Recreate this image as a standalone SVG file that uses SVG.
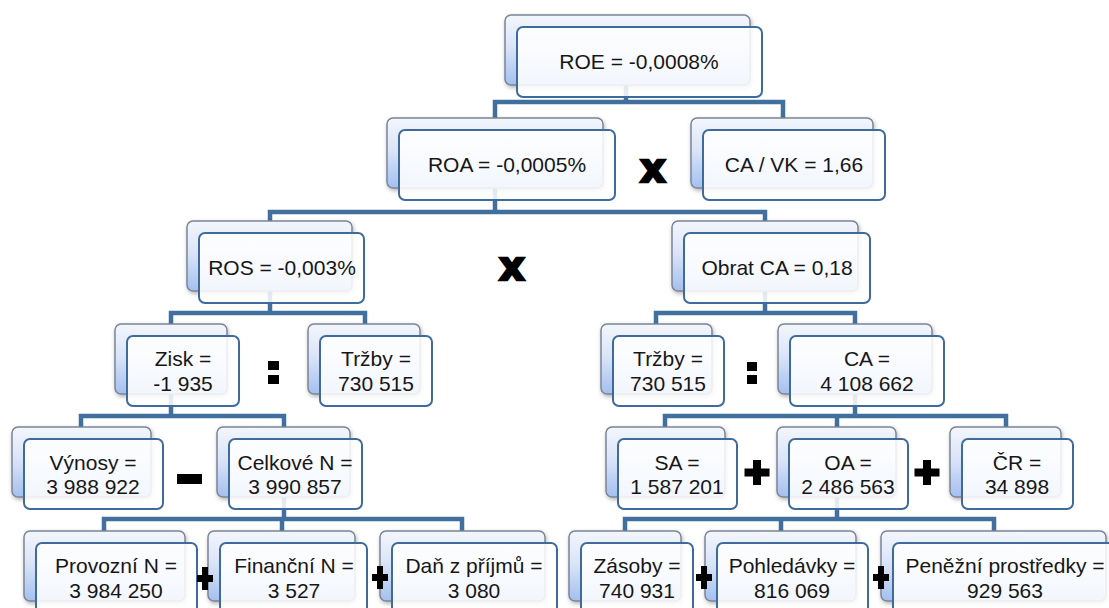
<svg xmlns="http://www.w3.org/2000/svg" width="1109" height="608" viewBox="0 0 1109 608">
<defs>
<linearGradient id="gb" x1="0" y1="0" x2="0" y2="1">
<stop offset="0" stop-color="#f3f6fc"/>
<stop offset="0.45" stop-color="#dbe5f8"/>
<stop offset="1" stop-color="#a4bfef"/>
</linearGradient>
<filter id="sh" x="-10%" y="-10%" width="125%" height="140%">
<feDropShadow dx="1" dy="2" stdDeviation="2" flood-color="#000" flood-opacity="0.3"/>
</filter>
<style>
.back{fill:url(#gb);stroke:#7b8596;stroke-width:1.5;filter:url(#sh)}
.front{fill:#ffffff;fill-opacity:0.86;stroke:#3f6b9c;stroke-width:2}
.t{font-family:"Liberation Sans",Arial,sans-serif;font-size:21px;fill:#161616;text-anchor:middle}
.con{fill:none;stroke:#41709f;stroke-width:4.5;stroke-linejoin:miter}
.op{fill:#000}
.x{font-family:"DejaVu Sans",sans-serif;font-weight:bold;font-size:40px;fill:#000;stroke:#000;stroke-width:2.4;text-anchor:middle}
</style>
</defs>
<rect width="1109" height="608" fill="#ffffff"/>

<g id="connectors">
<path class="con" d="M626,83 V102 M495,118 V102 H783 V118"/>
<path class="con" d="M495,188 V212 M270,221 V212 H765 V221"/>
<path class="con" d="M270,291 V313 M171,324 V313 H365 V324"/>
<path class="con" d="M765,291 V313 M656,324 V313 H855 V324"/>
<path class="con" d="M171,394 V416 M81,427 V416 H284 V427"/>
<path class="con" d="M855,394 V416 M665,427 V416 H1006 V427 M837,416 V427"/>
<path class="con" d="M284,497 V519 M104,531 V519 H462 V531 M282,519 V531"/>
<path class="con" d="M837,497 V519 M625,531 V519 H994 V531 M781,519 V531"/>
</g>

<g id="n-roe"><rect class="back" x="505" y="15" width="245" height="70" rx="6"/><rect class="front" x="517" y="27" width="245" height="70" rx="6"/><text class="t" x="639" y="69">ROE = -0,0008%</text></g>

<g id="n-roa"><rect class="back" x="387" y="118" width="216" height="70" rx="6"/><rect class="front" x="399" y="130" width="216" height="70" rx="6"/><text class="t" x="507" y="172">ROA = -0,0005%</text></g>

<g id="n-cavk"><rect class="back" x="691" y="118" width="182" height="70" rx="6"/><rect class="front" x="703" y="130" width="182" height="70" rx="6"/><text class="t" x="794" y="172">CA / VK = 1,66</text></g>

<g id="n-ros"><rect class="back" x="187" y="221" width="165" height="70" rx="6"/><rect class="front" x="199" y="233" width="165" height="70" rx="6"/><text class="t" x="282" y="275">ROS = -0,003%</text></g>

<g id="n-obrat"><rect class="back" x="672" y="221" width="186" height="70" rx="6"/><rect class="front" x="684" y="233" width="186" height="70" rx="6"/><text class="t" x="777" y="275">Obrat CA = 0,18</text></g>

<g id="n-zisk"><rect class="back" x="115" y="324" width="112" height="70" rx="6"/><rect class="front" x="127" y="336" width="112" height="70" rx="6"/><text class="t" x="183" y="366">Zisk =</text><text class="t" x="183" y="391">-1 935</text></g>

<g id="n-trzby1"><rect class="back" x="308" y="324" width="112" height="70" rx="6"/><rect class="front" x="320" y="336" width="112" height="70" rx="6"/><text class="t" x="376" y="366">Tržby =</text><text class="t" x="376" y="391">730 515</text></g>

<g id="n-trzby2"><rect class="back" x="601" y="324" width="111" height="70" rx="6"/><rect class="front" x="613" y="336" width="111" height="70" rx="6"/><text class="t" x="668" y="366">Tržby =</text><text class="t" x="668" y="391">730 515</text></g>

<g id="n-ca"><rect class="back" x="778" y="324" width="154" height="70" rx="6"/><rect class="front" x="790" y="336" width="154" height="70" rx="6"/><text class="t" x="867" y="366">CA =</text><text class="t" x="867" y="391">4 108 662</text></g>

<g id="n-vynosy"><rect class="back" x="12" y="427" width="139" height="70" rx="6"/><rect class="front" x="24" y="439" width="139" height="70" rx="6"/><text class="t" x="93" y="470">Výnosy =</text><text class="t" x="93" y="494">3 988 922</text></g>

<g id="n-celkove"><rect class="back" x="217" y="427" width="133" height="70" rx="6"/><rect class="front" x="229" y="439" width="133" height="70" rx="6"/><text class="t" x="295" y="470">Celkové N =</text><text class="t" x="295" y="494">3 990 857</text></g>

<g id="n-sa"><rect class="back" x="606" y="427" width="119" height="70" rx="6"/><rect class="front" x="618" y="439" width="119" height="70" rx="6"/><text class="t" x="677" y="470">SA =</text><text class="t" x="677" y="494">1 587 201</text></g>

<g id="n-oa"><rect class="back" x="777" y="427" width="119" height="70" rx="6"/><rect class="front" x="789" y="439" width="119" height="70" rx="6"/><text class="t" x="848" y="470">OA =</text><text class="t" x="848" y="494">2 486 563</text></g>

<g id="n-cr"><rect class="back" x="950" y="427" width="111" height="70" rx="6"/><rect class="front" x="962" y="439" width="111" height="70" rx="6"/><text class="t" x="1017" y="470">ČR =</text><text class="t" x="1017" y="494">34 898</text></g>

<g id="n-provozni"><rect class="back" x="24" y="531" width="161" height="70" rx="6"/><rect class="front" x="36" y="543" width="161" height="70" rx="6"/><text class="t" x="116" y="573">Provozní N =</text><text class="t" x="116" y="598">3 984 250</text></g>

<g id="n-financni"><rect class="back" x="208" y="531" width="147" height="70" rx="6"/><rect class="front" x="220" y="543" width="147" height="70" rx="6"/><text class="t" x="294" y="573">Finanční N =</text><text class="t" x="294" y="598">3 527</text></g>

<g id="n-dan"><rect class="back" x="380" y="531" width="165" height="70" rx="6"/><rect class="front" x="392" y="543" width="165" height="70" rx="6"/><text class="t" x="474" y="573">Daň z příjmů =</text><text class="t" x="474" y="598">3 080</text></g>

<g id="n-zasoby"><rect class="back" x="569" y="531" width="112" height="70" rx="6"/><rect class="front" x="581" y="543" width="112" height="70" rx="6"/><text class="t" x="637" y="573">Zásoby =</text><text class="t" x="637" y="598">740 931</text></g>

<g id="n-pohledavky"><rect class="back" x="705" y="531" width="151" height="70" rx="6"/><rect class="front" x="717" y="543" width="151" height="70" rx="6"/><text class="t" x="792" y="573">Pohledávky =</text><text class="t" x="792" y="598">816 069</text></g>

<g id="n-penezni"><rect class="back" x="881" y="531" width="225" height="70" rx="6"/><rect class="front" x="893" y="543" width="225" height="70" rx="6"/><text class="t" x="1005" y="573">Peněžní prostředky =</text><text class="t" x="1005" y="598">929 563</text></g>

<g id="operators">
<text class="x" x="653" y="182">x</text>
<text class="x" x="512" y="280">x</text>
<rect class="op" x="268" y="361" width="11" height="9"/>
<rect class="op" x="268" y="375" width="11" height="9"/>
<rect class="op" x="747" y="362" width="10" height="9"/>
<rect class="op" x="747" y="375" width="10" height="9"/>
<rect class="op" x="177" y="474" width="25" height="10"/>
<path class="op" d="M753,460 h8 v8.5 h8.5 v8 h-8.5 v8.5 h-8 v-8.5 h-8.5 v-8 h8.5 z"/>
<path class="op" d="M923,460 h8 v8.5 h8.5 v8 h-8.5 v8.5 h-8 v-8.5 h-8.5 v-8 h8.5 z"/>
<path class="op" d="M202,567 h6 v8 h5 v7 h-5 v8 h-6 v-8 h-5 v-7 h5 z"/>
<path class="op" d="M377,566 h6 v8 h5 v7 h-5 v8 h-6 v-8 h-5 v-7 h5 z"/>
<path class="op" d="M701,566 h6 v8 h5 v7 h-5 v8 h-6 v-8 h-5 v-7 h5 z"/>
<path class="op" d="M878,566 h6 v8 h5 v7 h-5 v8 h-6 v-8 h-5 v-7 h5 z"/>
</g>
</svg>
